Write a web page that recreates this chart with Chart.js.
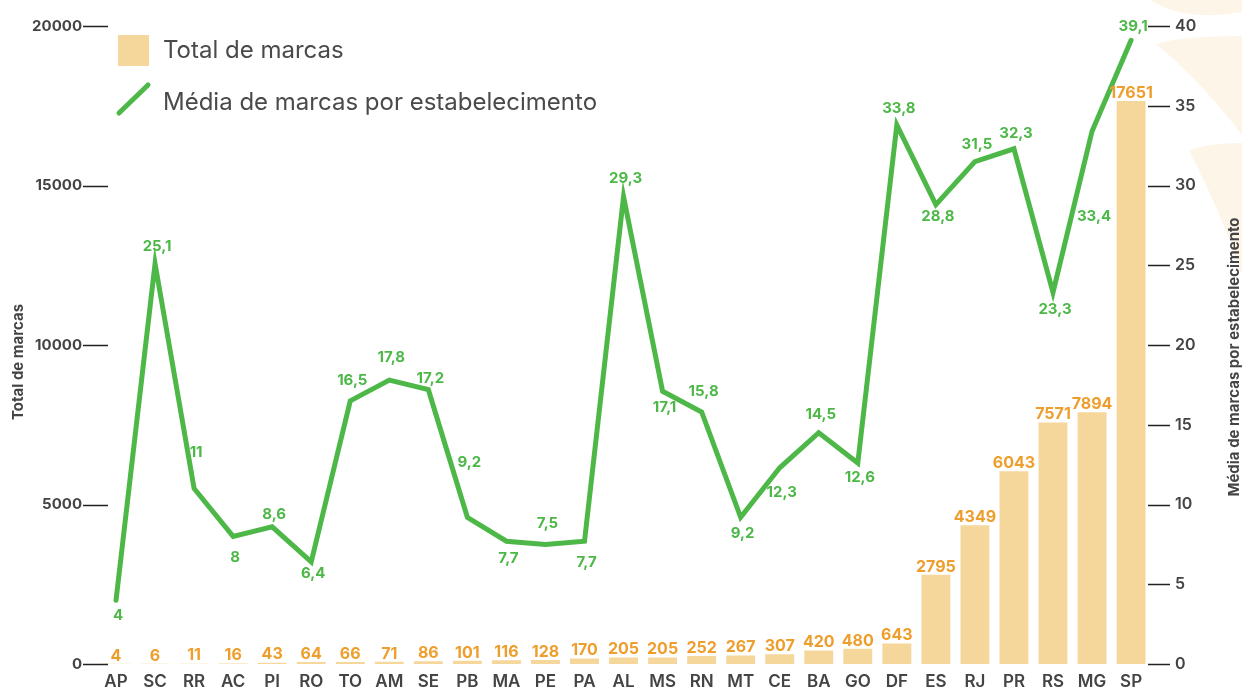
<!DOCTYPE html>
<html lang="pt-BR">
<head>
<meta charset="utf-8">
<title>Total de marcas e média por estabelecimento, por UF</title>
<script src="https://cdn.jsdelivr.net/npm/chart.js@4/dist/chart.umd.min.js"></script>
<style>
  html, body { margin: 0; padding: 0; background: #fff; }
  #wrap { position: relative; width: 1242px; height: 691px; }
</style>
</head>
<body>
<div id="wrap"><canvas id="chart" width="1242" height="691"></canvas></div>
<script>
// Data.
const UFS = ["AP", "SC", "RR", "AC", "PI", "RO", "TO", "AM", "SE", "PB", "MA", "PE", "PA", "AL",
  "MS", "RN", "MT", "CE", "BA", "GO", "DF", "ES", "RJ", "PR", "RS", "MG", "SP"];
const TOTAL_MARCAS = [4, 6, 11, 16, 43, 64, 66, 71, 86, 101, 116, 128, 170, 205,
  205, 252, 267, 307, 420, 480, 643, 2795, 4349, 6043, 7571, 7894, 17651];
const MEDIA_POR_ESTAB = [4, 25.1, 11, 8, 8.6, 6.4, 16.5, 17.8, 17.2, 9.2, 7.7, 7.5, 7.7, 29.3,
  17.1, 15.8, 9.2, 12.3, 14.5, 12.6, 33.8, 28.8, 31.5, 32.3, 23.3, 33.4, 39.1];
const LEFT_TICKS = [0, 5000, 10000, 15000, 20000];
const RIGHT_TICKS = [0, 5, 10, 15, 20, 25, 30, 35, 40];

// Where each green value label sits relative to its point (px, + = below).
const MEDIA_LABEL_DY = [15, -17, -36, 21, -12, 12, -20, -23, -11, -55, 17, -21, 21, -18,
  16, -21, 16, 25, -18, 14, -16, 12, -17, -15, 17, 85, -14];

const GREEN = "#4DB848";
const SAND = "#F5D69B";
const ORANGE = "#EE9E2D";
const INK = "#444444";
const FONT = "Inter, 'Open Sans', 'DejaVu Sans', sans-serif";

Chart.defaults.font.family = FONT;

const fmt = (v) => String(v).replace(".", ",");

// pin the plot box: the value axes must not add label overhang above/below
const noOverhang = (s) => {
  s.paddingTop = 0;
  s.paddingBottom = 0;
  s.paddingLeft = 0;
  s.paddingRight = 0;
};

const extras = {
  id: "extras",
  // faint petals of the background artwork, top right
  beforeDraw(chart) {
    const ctx = chart.ctx;
    ctx.save();
    ctx.fillStyle = "#FEF5E9";
    ctx.beginPath();
    ctx.moveTo(1150, 0);
    ctx.quadraticCurveTo(1185, 22, 1242, 12);
    ctx.lineTo(1242, 0);
    ctx.closePath();
    ctx.fill();
    ctx.beginPath();
    ctx.moveTo(1242, 36);
    ctx.quadraticCurveTo(1180, 36, 1156, 44);
    ctx.quadraticCurveTo(1200, 80, 1242, 135);
    ctx.closePath();
    ctx.fill();
    ctx.beginPath();
    ctx.moveTo(1242, 143);
    ctx.quadraticCurveTo(1205, 143, 1189, 151);
    ctx.quadraticCurveTo(1218, 205, 1242, 275);
    ctx.closePath();
    ctx.fill();
    ctx.restore();
  },
  afterDatasetsDraw(chart) {
    const ctx = chart.ctx;
    ctx.save();
    ctx.textAlign = "center";
    ctx.textBaseline = "middle";

    // bar values
    ctx.font = "bold 16px " + FONT;
    ctx.fillStyle = ORANGE;
    chart.getDatasetMeta(0).data.forEach((bar, i) => {
      ctx.fillText(String(TOTAL_MARCAS[i]), bar.x, bar.y - 8);
    });

    // line values
    ctx.font = "bold 15px " + FONT;
    ctx.fillStyle = GREEN;
    chart.getDatasetMeta(1).data.forEach((pt, i) => {
      ctx.fillText(fmt(MEDIA_POR_ESTAB[i]), pt.x + 2, pt.y + MEDIA_LABEL_DY[i]);
    });
    ctx.restore();
  },
  afterDraw(chart) {
    const ctx = chart.ctx;
    const { y, y1 } = chart.scales;
    ctx.save();

    // tick marks of both value axes
    ctx.strokeStyle = "#222";
    ctx.lineWidth = 1.3;
    ctx.beginPath();
    for (const v of LEFT_TICKS) {
      const py = Math.round(y.getPixelForValue(v)) + 0.5;
      ctx.moveTo(83, py);
      ctx.lineTo(108, py);
    }
    for (const v of RIGHT_TICKS) {
      const py = Math.round(y1.getPixelForValue(v)) + 0.5;
      ctx.moveTo(1148, py);
      ctx.lineTo(1170, py);
    }
    ctx.stroke();

    // axis titles (both read bottom to top)
    ctx.fillStyle = INK;
    ctx.font = "bold 15px " + FONT;
    ctx.textAlign = "center";
    ctx.textBaseline = "middle";
    for (const [x, cy, text] of [[18, 362, "Total de marcas"],
                                 [1234, 357, "Média de marcas por estabelecimento"]]) {
      ctx.save();
      ctx.translate(x, cy);
      ctx.rotate(-Math.PI / 2);
      ctx.fillText(text, 0, 0);
      ctx.restore();
    }

    // legend
    const ds = chart.data.datasets;
    ctx.fillStyle = SAND;
    ctx.fillRect(118, 35, 31, 31);
    ctx.strokeStyle = GREEN;
    ctx.lineWidth = 5;
    ctx.lineCap = "round";
    ctx.beginPath();
    ctx.moveTo(119, 113);
    ctx.lineTo(148, 85);
    ctx.stroke();
    ctx.fillStyle = "#4a4a4a";
    ctx.font = "24px " + FONT;
    ctx.textAlign = "left";
    ctx.fillText(ds[0].label, 163, 51);
    ctx.fillText(ds[1].label, 163, 103);
    ctx.restore();
  },
};

new Chart(document.getElementById("chart"), {
  data: {
    labels: UFS,
    datasets: [
      {
        type: "bar",
        label: "Total de marcas",
        data: TOTAL_MARCAS,
        yAxisID: "y",
        backgroundColor: SAND,
        barPercentage: 0.74,
        categoryPercentage: 1,
        order: 2,
      },
      {
        type: "line",
        label: "Média de marcas por estabelecimento",
        data: MEDIA_POR_ESTAB,
        yAxisID: "y1",
        borderColor: GREEN,
        borderWidth: 5,
        borderCapStyle: "round",
        pointRadius: 0,
        tension: 0,
        order: 1,
      },
    ],
  },
  options: {
    responsive: false,
    devicePixelRatio: 1,
    animation: false,
    layout: { padding: { top: 26, left: 0, right: 0, bottom: 0 } },
    plugins: { legend: { display: false }, tooltip: { enabled: false } },
    scales: {
      x: {
        grid: { display: false, drawTicks: false },
        border: { display: false },
        ticks: { color: INK, font: { size: 17, weight: "600" }, padding: 8, autoSkip: false, maxRotation: 0 },
        afterFit: (s) => { s.height = 27; noOverhang(s); },
      },
      y: {
        position: "left",
        min: 0,
        max: 20000,
        grid: { display: false, drawTicks: false },
        border: { display: false },
        afterBuildTicks: (s) => { s.ticks = LEFT_TICKS.map((v) => ({ value: v })); },
        ticks: { color: INK, font: { size: 15, weight: "bold" }, padding: 14.5, callback: (v) => String(v) },
        afterFit: (s) => { s.width = 96.5; noOverhang(s); },
      },
      y1: {
        position: "right",
        min: 0,
        max: 40,
        grid: { display: false, drawTicks: false },
        border: { display: false },
        afterBuildTicks: (s) => { s.ticks = RIGHT_TICKS.map((v) => ({ value: v })); },
        ticks: { color: INK, font: { size: 16, weight: "600" }, padding: 24.5, callback: (v) => String(v) },
        afterFit: (s) => { s.width = 91.4; noOverhang(s); },
      },
    },
  },
  plugins: [extras],
});
</script>
</body>
</html>
